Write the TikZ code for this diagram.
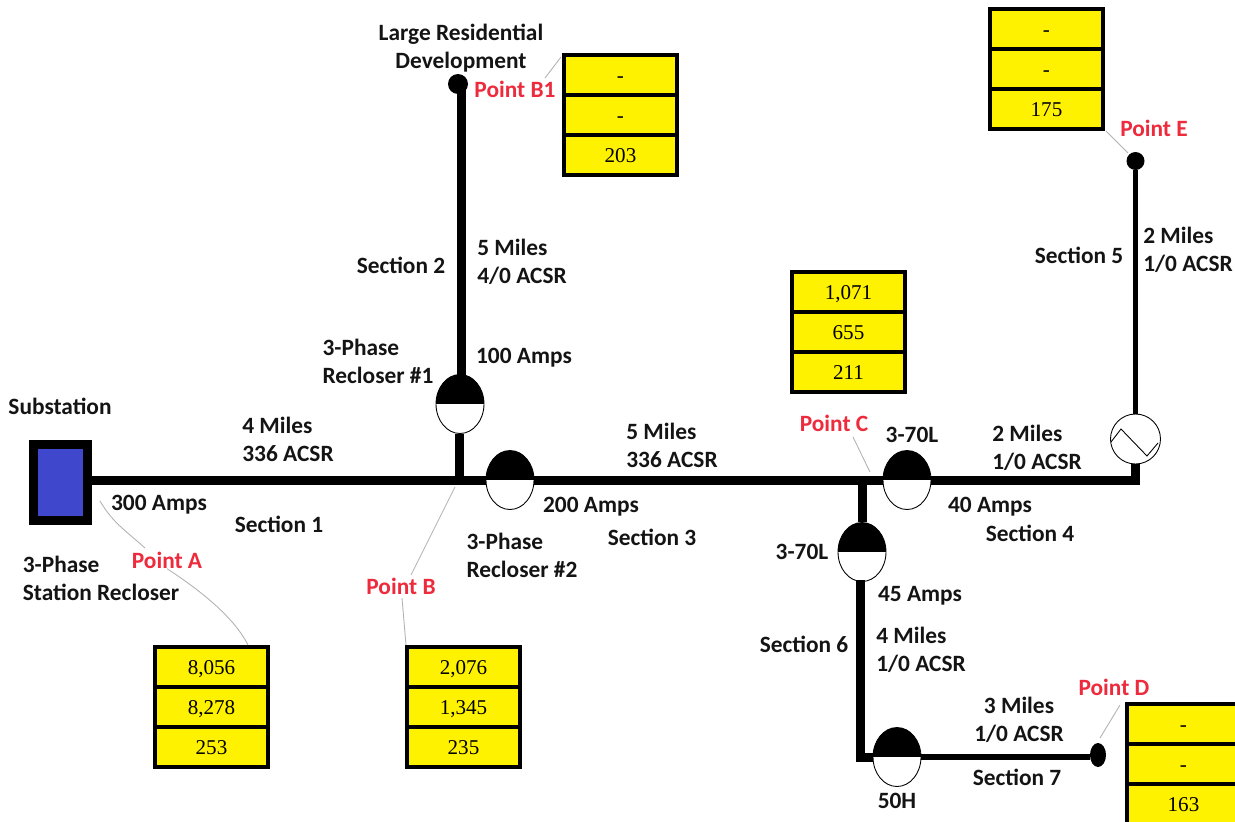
\documentclass[tikz,border=0pt]{standalone}
\usepackage{fontspec}
\setmainfont{Carlito}
\newfontfamily\valfont{Liberation Serif}
\usetikzlibrary{shapes.geometric}
\definecolor{cellyellow}{HTML}{FFF200}
\definecolor{subblue}{HTML}{3F48CC}
\definecolor{ptred}{HTML}{ED2B3C}

\begin{document}
\begin{tikzpicture}[
  x=0.02cm, y=-0.02cm,
  lbl/.style={font=\fontsize{13.3}{15.9}\selectfont\bfseries, text=black!92, align=left, inner sep=0pt},
  ptlbl/.style={font=\fontsize{13.3}{15.9}\selectfont\bfseries, text=ptred, inner sep=0pt},
  valcell/.style={draw, line width=0.07cm, fill=cellyellow, minimum width=2.26cm, minimum height=0.8cm, inner sep=0pt, text height=8pt, text depth=0pt, font=\valfont\fontsize{12}{14}\selectfont},
  subst/.style={draw, line width=0.18cm, fill=subblue, minimum width=1.08cm, minimum height=1.52cm, inner sep=0pt},
  recl/.style={draw, ellipse, line width=0.5pt, fill=white, minimum width=0.96cm, minimum height=1.18cm, inner sep=0pt,
    path picture={\fill[black] (path picture bounding box.west) rectangle (path picture bounding box.north east);}},
  regl/.style={draw, circle, line width=0.5pt, fill=white, minimum size=1cm, inner sep=0pt},
  endpt/.style={circle, fill=black, inner sep=0pt},
  feeder/.style={line width=0.18cm},
  lateral/.style={line width=0.11cm},
  leader/.style={draw=gray!60, line width=0.5pt}
]
\clip (0,0) rectangle (1235,822);

% ==================== EQUIPMENT ====================
\node[subst] (sub) at (60.5,482.5) {};
\node[recl] (rc1) at (460,404) {};
\node[recl] (rc2) at (510,480) {};
\node[recl] (rc3) at (907,480) {};
\node[recl] (rc4) at (862,552) {};
\node[recl] (rc5) at (897,757) {};
\node[regl] (reg) at (1135.5,439) {};
\node[endpt, minimum size=0.4cm] (end_b1) at (458,84) {};
\node[endpt, minimum size=0.36cm] (end_e) at (1135.5,161) {};
\node[endpt, ellipse, minimum width=0.32cm, minimum height=0.48cm] (end_d) at (1098,755) {};
\coordinate (jct_b) at (459,480);
\coordinate (jct_c) at (862,480);
\coordinate (top_b1) at (461,84);
\coordinate (bot_s2) at (461,378);
\coordinate (top_s6) at (860,580);
\coordinate (bot_s6) at (860,757);

% ==================== LINES ====================
\draw[feeder] (sub.east |- rc2.center) -- (rc2.west);
\draw[feeder] (rc2.east) -- (rc3.west);
\draw[feeder] (rc3.east) -| (reg.south);
\draw[feeder] (rc1.south -| jct_b) -- (jct_b);
\draw[feeder] (bot_s2) -- (top_b1);
\draw[feeder] (jct_c) -- (rc4.north);
\draw[feeder] (top_s6) -- (bot_s6) -- (rc5.west);
\draw[lateral] (rc5.east) -- (end_d.west |- rc5.east);
\draw[lateral] (reg.north) -- (end_e);

% regulator symbol
\draw[line width=0.5pt] (1111,442) -- (1121,429) -- (1147,456) -- (1158,443);

% ==================== LABELS ====================
\node[lbl] (l_sub) at (60,406) {Substation};
\node[lbl] (l_s1a) at (288,439) {4 Miles\\336 ACSR};
\node[lbl] (l_amp1) at (159,505) {300 Amps};
\node[lbl] (l_sec1) at (279,524) {Section 1};
\node[lbl] (l_srec) at (101,578) {3-Phase\\Station Recloser};
\node[lbl] (l_sec2) at (401,265) {Section 2};
\node[lbl] (l_s2a) at (522,262) {5 Miles\\4/0 ACSR};
\node[lbl] (l_rc1) at (378,361) {3-Phase\\Recloser \#1};
\node[lbl] (l_amp2) at (524,358) {100 Amps};
\node[lbl, align=center] (l_dev) at (461,48) {Large Residential\\Development};
\node[lbl] (l_s3a) at (672,445) {5 Miles\\336 ACSR};
\node[lbl] (l_amp3) at (591,507) {200 Amps};
\node[lbl] (l_sec3) at (652,537) {Section 3};
\node[lbl] (l_rc2) at (522,555) {3-Phase\\Recloser \#2};
\node[lbl] (l_rc3) at (912,435) {3-70L};
\node[lbl] (l_s4a) at (1037,448) {2 Miles\\1/0 ACSR};
\node[lbl] (l_amp4) at (990,507) {40 Amps};
\node[lbl] (l_sec4) at (1030,533) {Section 4};
\node[lbl] (l_rc4) at (802,552) {3-70L};
\node[lbl] (l_amp5) at (920,596) {45 Amps};
\node[lbl] (l_s6a) at (921,650) {4 Miles\\1/0 ACSR};
\node[lbl] (l_sec6) at (804,644) {Section 6};
\node[lbl, align=center] (l_s7a) at (1019,720) {3 Miles\\1/0 ACSR};
\node[lbl] (l_sec7) at (1017,777) {Section 7};
\node[lbl] (l_rc5) at (897,801) {50H};
\node[lbl] (l_sec5) at (1079,255) {Section 5};
\node[lbl] (l_s5a) at (1188,250) {2 Miles\\1/0 ACSR};

% ==================== POINTS ====================
\node[ptlbl] (pt_a) at (167,560) {Point A};
\node[ptlbl] (pt_b) at (401,586) {Point B};
\node[ptlbl] (pt_b1) at (515,89) {Point B1};
\node[ptlbl] (pt_c) at (834,423) {Point C};
\node[ptlbl] (pt_d) at (1114,687) {Point D};
\node[ptlbl] (pt_e) at (1154,128) {Point E};

% ==================== VALUE BOXES ====================
\node[valcell] (a_v1) at (211.5,667) {8,056};
\node[valcell] (a_v2) at (211.5,707) {8,278};
\node[valcell] (a_v3) at (211.5,747) {253};

\node[valcell] (b_v1) at (463.5,667) {2,076};
\node[valcell] (b_v2) at (463.5,707) {1,345};
\node[valcell] (b_v3) at (463.5,747) {235};

\node[valcell] (b1_v1) at (620.5,75) {-};
\node[valcell] (b1_v2) at (620.5,115) {-};
\node[valcell] (b1_v3) at (620.5,155) {203};

\node[valcell] (c_v1) at (848.5,292) {1,071};
\node[valcell] (c_v2) at (848.5,332) {655};
\node[valcell] (c_v3) at (848.5,372) {211};

\node[valcell] (e_v1) at (1046.5,29) {-};
\node[valcell] (e_v2) at (1046.5,69) {-};
\node[valcell] (e_v3) at (1046.5,109) {175};

\node[valcell] (d_v1) at (1183.5,724) {-};
\node[valcell] (d_v2) at (1183.5,764) {-};
\node[valcell] (d_v3) at (1183.5,804) {163};

% ==================== LEADERS ====================
\coordinate (a_in) at (100,501);
\coordinate (a_up) at (145,548);
\coordinate (a_box) at (248,645);
\coordinate (b_in) at (455,487);
\coordinate (b_up) at (411,575);
\coordinate (b_lo) at (402,598);
\coordinate (b_box) at (406,645);
\coordinate (b1_up) at (545,78);
\coordinate (b1_box) at (561,57);
\coordinate (c_lo) at (870,472);
\coordinate (c_up) at (853,437);
\coordinate (d_up) at (1120,705);
\coordinate (d_lo) at (1100,738);
\coordinate (e_up) at (1106,131);
\coordinate (e_lo) at (1128,153);

\draw[leader] (a_in) .. controls (113,523) and (125,530) .. (a_up);
\draw[leader] (pt_a.south) .. controls (215,600) and (238,625) .. (a_box);
\draw[leader] (b_in) -- (b_up);
\draw[leader] (b_lo) -- (b_box);
\draw[leader] (b1_up) -- (b1_box);
\draw[leader] (c_up) -- (c_lo);
\draw[leader] (d_up) -- (d_lo);
\draw[leader] (e_up) -- (e_lo);

\end{tikzpicture}
\end{document}
